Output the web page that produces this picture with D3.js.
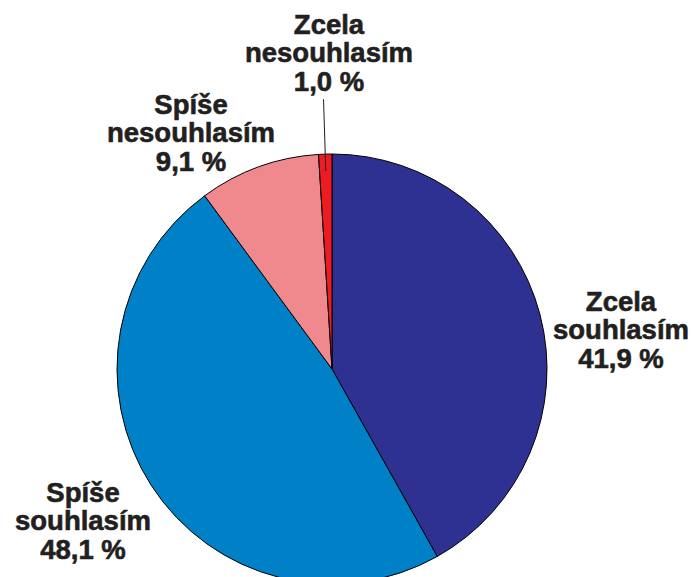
<!DOCTYPE html>
<html>
<head>
<meta charset="utf-8">
<script src="https://cdn.jsdelivr.net/npm/d3@7/dist/d3.min.js"></script>
<style>
    html, body { margin: 0; padding: 0; background: #fff; }
    svg { display: block; }
    .label text {
        font-family: "Liberation Sans", Arial, Helvetica, sans-serif;
        font-weight: bold;
        fill: #231f20;
        stroke: #231f20;
        stroke-width: 0.6px;
    }
</style>
</head>
<body>
<svg id="chart" width="693" height="577"></svg>
<script>
    // Chart data (clockwise from 12 o'clock)
    var categories = ["Zcela souhlasím", "Spíše souhlasím", "Spíše nesouhlasím", "Zcela nesouhlasím"];
    var values = [41.9, 48.1, 9.1, 1.0];
    var labelLines = [
        ["Zcela", "souhlasím", "41,9 %"],
        ["Spíše", "souhlasím", "48,1 %"],
        ["Spíše", "nesouhlasím", "9,1 %"],
        ["Zcela", "nesouhlasím", "1,0 %"]
    ];
    var colors = ["#2e3192", "#0080c6", "#f0898e", "#ed1c24"];

    var svg = d3.select("#chart");
    var cx = 332, cy = 369, radius = 215;

    var data = categories.map(function(c, i) { return {name: c, value: values[i], lines: labelLines[i]}; });

    var pie = d3.pie().sort(null).value(function(d) { return d.value; });
    var arc = d3.arc().innerRadius(0).outerRadius(radius);
    var arcs = pie(data);

    var g = svg.append("g").attr("transform", "translate(" + cx + "," + cy + ")");

    g.selectAll("path")
        .data(arcs)
        .enter().append("path")
        .attr("d", arc)
        .attr("fill", function(d, i) { return colors[i]; })
        .attr("stroke", "#000")
        .attr("stroke-width", 1)
        .attr("stroke-linejoin", "round");

    // label placement: middle-line baseline, relative to the pie centre
    var labelOffset = [[289, -30], [-249, 161], [-141, -227], [-3, -307]];
    var lineH = 28.5;

    function polar(a, r) { return [Math.sin(a) * r, -Math.cos(a) * r]; }

    var labels = g.selectAll(".label")
        .data(arcs)
        .enter().append("g")
        .attr("class", "label")
        .attr("transform", function(d, i) {
            return "translate(" + labelOffset[i][0] + "," + labelOffset[i][1] + ")";
        });

    labels.append("text")
        .attr("text-anchor", "middle")
        .style("font-size", "27.5px")
        .selectAll("tspan")
        .data(function(d) { return d.data.lines; })
        .enter().append("tspan")
        .attr("x", 0)
        .attr("y", function(d, i) { return (i - 1) * lineH; })
        .text(function(d) { return d; });

    // leader line for the thin slice
    var thin = arcs[3];
    var thinMid = (thin.startAngle + thin.endAngle) / 2;
    var p0 = polar(thinMid, radius - 17), p1 = polar(thinMid, radius + 55);
    g.append("line")
        .attr("x1", p0[0]).attr("y1", p0[1])
        .attr("x2", p1[0]).attr("y2", p1[1])
        .attr("stroke", "#231f20")
        .attr("stroke-width", 1);
</script>
</body>
</html>
